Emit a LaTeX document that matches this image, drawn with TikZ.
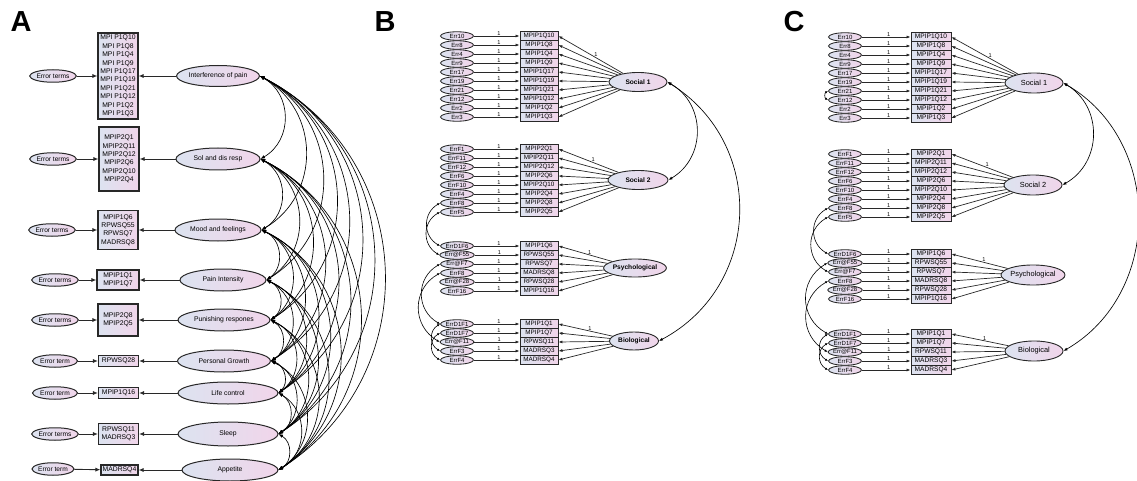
\documentclass[tikz,border=0pt]{standalone}
\usepackage{fontspec}
\setmainfont{Liberation Sans}
\usetikzlibrary{shapes.geometric,arrows.meta}

\definecolor{shadeL}{RGB}{220,227,240}
\definecolor{shadeR}{RGB}{241,213,234}
\definecolor{rim}{RGB}{40,40,40}

\tikzset{
  gfill/.style={left color=shadeL, right color=shadeR},
  panel/.style={font=\fontsize{29}{29}\selectfont\bfseries, inner sep=0pt},
  % panel A
  latA/.style={ellipse, draw=rim, line width=1pt, gfill, inner sep=0pt, minimum height=22pt, font=\fontsize{6.8}{8}\selectfont},
  errA/.style={ellipse, draw=rim, line width=1pt, gfill, inner sep=0pt, minimum width=46pt, minimum height=12.5pt, font=\fontsize{6.6}{8}\selectfont},
  obsA/.style={rectangle, draw=rim, line width=1.1pt, gfill, align=center, inner sep=0pt, minimum width=40pt, font=\fontsize{6.8}{8.4}\selectfont},
  pathA/.style={draw=rim, line width=0.9pt, -{Latex[length=5pt,width=4pt]}},
  covA/.style={draw=black, line width=0.65pt, {Latex[length=4.5pt,width=3.5pt]}-{Latex[length=4.5pt,width=3.5pt]}, bend left=60, looseness=1.15},
  % panels B and C
  latB/.style={ellipse, draw=rim, line width=0.9pt, gfill, inner sep=0pt, minimum height=19pt, font=\fontsize{6.6}{8}\selectfont\bfseries},
  latC/.style={ellipse, draw=rim, line width=0.9pt, gfill, inner sep=0pt, minimum height=20pt, font=\fontsize{7.4}{8}\selectfont},
  errB/.style={ellipse, draw=rim, line width=0.85pt, gfill, inner sep=0pt, minimum width=33pt, minimum height=8.5pt, font=\fontsize{6}{6}\selectfont},
  errC/.style={errB},
  obsB/.style={rectangle, draw=rim, line width=0.85pt, gfill, inner sep=0pt, minimum width=38pt, minimum height=9pt, font=\fontsize{6.3}{7}\selectfont},
  obsC/.style={obsB, minimum width=40pt, font=\fontsize{6.6}{7}\selectfont},
  pathB/.style={draw=rim, line width=0.7pt, -{Latex[length=4pt,width=3pt]}},
  pathC/.style={pathB},
  one/.style={font=\fontsize{5.6}{5.6}\selectfont, inner sep=0.6pt, above, pos=0.55},
  covB/.style={draw=black, line width=0.65pt, {Latex[length=4pt,width=3pt]}-{Latex[length=4pt,width=3pt]}, bend left=60, looseness=1.15},
  ecov/.style={draw=black, line width=0.6pt, {Latex[length=3pt,width=2.4pt]}-{Latex[length=3pt,width=2.4pt]}, bend right=60, looseness=1.2},
}

% one indicator block: #1 prefix, #2 latent node, #3 style suffix,
% #4 error x, #5 indicator x, #6 first row y, #7 error/indicator list
\newcommand{\itemcol}[7]{%
  \foreach \er/\ob [count=\kk from 0] in {#7}{
    \node[err#3] (#1e\kk) at (#4,{#6+9*\kk}) {\er};
    \node[obs#3] (#1o\kk) at (#5,{#6+9*\kk}) {\ob};
    \draw[path#3] (#1e\kk) -- node[one]{1} (#1o\kk);
    \draw[path#3] (#2) -- (#1o\kk.east);
  }
  \path (#2) -- node[one, pos=0.42]{1} (#1o0.east);
}

\begin{document}
\begin{tikzpicture}[x=1pt, y=-1pt]
\useasboundingbox[fill=white] (0,0) rectangle (1137,481);

% ---------------- panel A ----------------
\node[panel] (pA) at (21,22) {A};

\node[latA, minimum width=82pt, minimum height=21pt] (L1) at (218,76) {Interference of pain};
\node[latA, minimum width=84pt] (L2) at (218,159) {Sol and dis resp};
\node[latA, minimum width=86pt] (L3) at (218,230) {Mood and feelings};
\node[latA, minimum width=86pt] (L4) at (223,280) {Pain Intensity};
\node[latA, minimum width=92pt] (L5) at (224,320) {Punishing respones};
\node[latA, minimum width=93pt] (L6) at (224,361) {Personal Growth};
\node[latA, minimum width=100pt] (L7) at (228,393) {Life control};
\node[latA, minimum width=100pt, minimum height=24pt] (L8) at (228,434) {Sleep};
\node[latA, minimum width=96pt] (L9) at (230,470) {Appetite};

\node[obsA, minimum height=86pt] (O1) at (118,76) {MPI P1Q10\\MPI P1Q8\\MPI P1Q4\\MPI P1Q9\\MPI P1Q17\\MPI P1Q19\\MPI P1Q21\\MPI P1Q12\\MPI P1Q2\\MPI P1Q3};
\node[obsA, minimum height=64pt] (O2) at (119,159) {MPIP2Q1\\MPIP2Q11\\MPIP2Q12\\MPIP2Q6\\MPIP2Q10\\MPIP2Q4};
\node[obsA, minimum height=39pt] (O3) at (118,230) {MPIP1Q6\\RPWSQ55\\RPWSQ7\\MADRSQ8};
\node[obsA, minimum width=42pt, minimum height=20pt] (O4) at (118,280) {MPIP1Q1\\MPIP1Q7};
\node[obsA, minimum height=32pt] (O5) at (118,320) {MPIP2Q8\\MPIP2Q5};
\node[obsA, minimum height=10.5pt] (O6) at (118.5,361) {RPWSQ28};
\node[obsA, minimum height=10.5pt] (O7) at (118.5,393) {MPIP1Q16};
\node[obsA, minimum height=21pt] (O8) at (118.5,434) {RPWSQ11\\MADRSQ3};
\node[obsA, minimum width=37pt, minimum height=10pt] (O9) at (119.5,470) {MADRSQ4};

\node[errA] (E1) at (53,76) {Error terms};
\node[errA] (E2) at (53,159) {Error terms};
\node[errA, minimum width=44pt] (E3) at (52,230) {Error terms};
\node[errA, minimum width=40pt] (E4) at (55,280) {Error terms};
\node[errA, minimum width=43pt] (E5) at (55,320) {Error terms};
\node[errA, minimum width=45pt] (E6) at (55,361) {Error term};
\node[errA, minimum width=45pt] (E7) at (55,393) {Error term};
\node[errA, minimum width=44pt] (E8) at (55,434) {Error terms};
\node[errA, minimum width=42pt] (E9) at (53,469) {Error term};

\foreach \i in {1,...,9}{
  \draw[pathA] (E\i) -- (O\i);
  \draw[pathA] (L\i) -- (O\i);
}

% correlations between all nine factors
\foreach \i in {1,...,8}{
  \pgfmathtruncatemacro{\nx}{\i+1}
  \foreach \j in {\nx,...,9}{
    \draw[covA] (L\i.east) to (L\j.east);
  }
}

% ---------------- panel B ----------------
\node[panel] (pB) at (385,22) {B};

\node[latB, minimum width=58pt] (bS1) at (638,82) {Social 1};
\node[latB, minimum width=60pt] (bS2) at (638,180) {Social 2};
\node[latB, minimum width=53pt, minimum height=18pt] (bPs) at (635,268) {Psychological};
\node[latB, minimum width=49pt, minimum height=18pt] (bBi) at (634,341) {Biological};

\itemcol{bA}{bS1}{B}{457}{539}{36}{Err10/MPIP1Q10, Err8/MPIP1Q8, Err4/MPIP1Q4, Err9/MPIP1Q9, Err17/MPIP1Q17, Err19/MPIP1Q19, Err21/MPIP1Q21, Err12/MPIP1Q12, Err2/MPIP1Q2, Err3/MPIP1Q3}
\itemcol{bB}{bS2}{B}{457}{539}{149}{ErrF1/MPIP2Q1, ErrF11/MPIP2Q11, ErrF12/MPIP2Q12, ErrF6/MPIP2Q6, ErrF10/MPIP2Q10, ErrF4/MPIP2Q4, ErrF8/MPIP2Q8, ErrF5/MPIP2Q5}
\itemcol{bC}{bPs}{B}{457}{539}{246}{ErrD1F6/MPIP1Q6, Err@F55/RPWSQ55, Err@F7/RPWSQ7, ErrF8/MADRSQ8, Err@F28/RPWSQ28, ErrF16/MPIP1Q16}
\itemcol{bD}{bBi}{B}{457}{539}{324}{ErrD1F1/MPIP1Q1, ErrD1F7/MPIP1Q7, Err@F11/RPWSQ11, ErrF3/MADRSQ3, ErrF4/MADRSQ4}

\draw[covB] (bS1.east) to (bS2.east);
\draw[covB] (bS1.east) to (bBi.east);

\draw[ecov] (bBe6.west) to (bCe0.west);
\draw[ecov] (bBe7.west) to (bCe1.west);
\draw[ecov] (bCe2.west) to (bDe0.west);
\draw[ecov] (bCe3.west) to (bDe2.west);
\draw[ecov] (bDe0.west) to (bDe3.west);
\draw[ecov] (bDe1.west) to (bDe4.west);

% ---------------- panel C ----------------
\node[panel] (pC) at (794,22) {C};

\node[latC, minimum width=58pt] (cS1) at (1034,83) {Social 1};
\node[latC, minimum width=58pt] (cS2) at (1033,185) {Social 2};
\node[latC, minimum width=60pt] (cPs) at (1033,275) {Psychological};
\node[latC, minimum width=58pt] (cBi) at (1034,351) {Biological};

\itemcol{cA}{cS1}{C}{845}{931}{37}{Err10/MPIP1Q10, Err8/MPIP1Q8, Err4/MPIP1Q4, Err9/MPIP1Q9, Err17/MPIP1Q17, Err19/MPIP1Q19, Err21/MPIP1Q21, Err12/MPIP1Q12, Err2/MPIP1Q2, Err3/MPIP1Q3}
\itemcol{cB}{cS2}{C}{845}{931}{154}{ErrF1/MPIP2Q1, ErrF11/MPIP2Q11, ErrF12/MPIP2Q12, ErrF6/MPIP2Q6, ErrF10/MPIP2Q10, ErrF4/MPIP2Q4, ErrF8/MPIP2Q8, ErrF5/MPIP2Q5}
\itemcol{cC}{cPs}{C}{845}{931}{254}{ErrD1F6/MPIP1Q6, Err@F55/RPWSQ55, Err@F7/RPWSQ7, ErrF8/MADRSQ8, Err@F28/RPWSQ28, ErrF16/MPIP1Q16}
\itemcol{cD}{cBi}{C}{845}{931}{334}{ErrD1F1/MPIP1Q1, ErrD1F7/MPIP1Q7, Err@F11/RPWSQ11, ErrF3/MADRSQ3, ErrF4/MADRSQ4}

\draw[covB] (cS1.east) to (cS2.east);
\draw[covB] (cS1.east) to[looseness=1.1] (cBi.east);

\draw[ecov] (cAe6.west) to (cAe7.west);
\draw[ecov] (cBe6.west) to (cCe0.west);
\draw[ecov] (cBe7.west) to (cCe2.west);
\draw[ecov] (cCe1.west) to (cDe0.west);
\draw[ecov] (cCe3.west) to (cDe2.west);
\draw[ecov] (cDe0.west) to (cDe3.west);
\draw[ecov] (cDe1.west) to (cDe4.west);
\end{tikzpicture}
\end{document}
